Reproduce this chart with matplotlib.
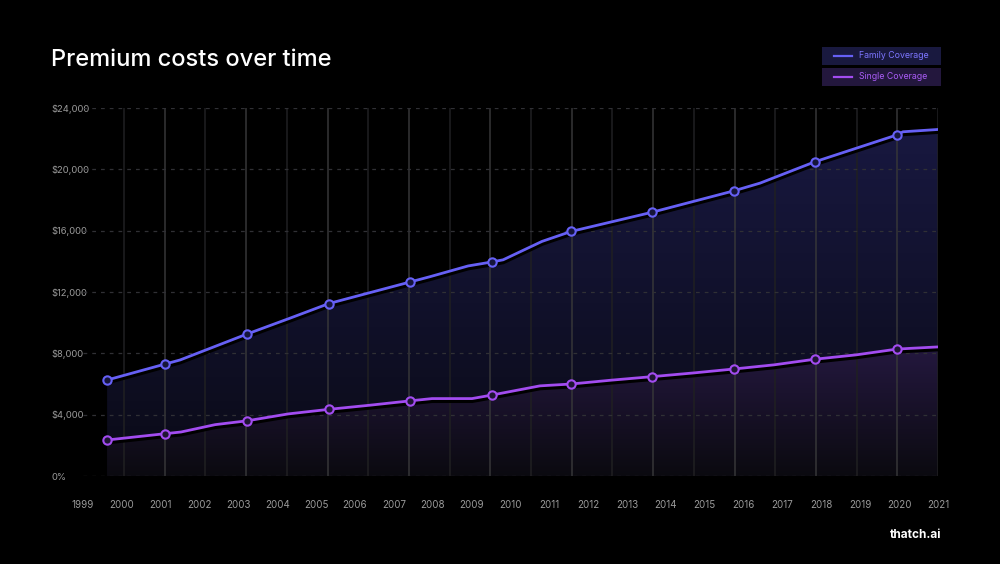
import numpy as np
import matplotlib
matplotlib.use('Agg')
from matplotlib import pyplot as plt
from matplotlib.patches import Polygon, Rectangle
from matplotlib.lines import Line2D
import matplotlib.patheffects as pe

plt.rcParams['font.family'] = ['Inter', 'DejaVu Sans']

# data (x in axis-year units, y in dollars)
family_x = [1999.62, 2001.11, 2001.50, 2003.22, 2004.28, 2005.33, 2007.41, 2007.93,
            2008.91, 2009.52, 2009.81, 2010.81, 2011.56, 2013.64, 2015.75, 2016.42,
            2017.84, 2019.95, 2020.10, 2021.0]
family_y = [6260, 7300, 7570, 9260, 10250, 11250, 12650, 13000,
            13700, 13960, 14100, 15300, 15950, 17200, 18600, 19100,
            20500, 22250, 22450, 22600]
family_marks = [0, 1, 3, 5, 6, 9, 12, 13, 14, 16, 17]

single_x = [1999.62, 2001.11, 2001.52, 2002.40, 2003.22, 2004.28, 2005.33, 2006.39,
            2007.41, 2007.98, 2009.01, 2009.52, 2010.76, 2011.56, 2012.59, 2013.64,
            2014.70, 2015.75, 2016.78, 2017.84, 2018.89, 2019.95, 2021.0]
single_y = [2350, 2760, 2870, 3350, 3600, 4050, 4350, 4620,
            4900, 5050, 5050, 5280, 5880, 6000, 6250, 6480,
            6720, 6980, 7250, 7620, 7900, 8280, 8420]
single_marks = [0, 1, 4, 6, 8, 11, 13, 15, 17, 19, 21]

years = list(range(1999, 2022))
y_ticks = [0, 4000, 8000, 12000, 16000, 20000, 24000]
y_labels = ['0%', '$4,000', '$8,000', '$12,000', '$16,000', '$20,000', '$24,000']

fam_color = '#6660f5'
sin_color = '#a24cf0'

fig = plt.figure(figsize=(10, 5.64), dpi=100, facecolor='black')
ax = fig.add_axes([0.083, 0.156, 0.855, 0.6525])
ax.set_facecolor('black')
ax.set_xlim(1999, 2021)
ax.set_ylim(0, 24000)
for s in ax.spines.values():
    s.set_visible(False)


def gradient_fill(x, y, top, bottom, z):
    verts = np.column_stack([np.r_[x, x[::-1]], np.r_[y, np.zeros(len(y))]])
    patch = Polygon(verts, closed=True, facecolor='none', edgecolor='none')
    ax.add_patch(patch)
    c0 = np.array(matplotlib.colors.to_rgba(bottom))
    c1 = np.array(matplotlib.colors.to_rgba(top))
    t = np.linspace(0, 1, 256)[:, None]
    grad = (c0 + (c1 - c0) * t)[:, None, :]
    im = ax.imshow(grad, extent=[min(x), max(x), 0, max(y)], aspect='auto',
                   origin='lower', zorder=z, interpolation='bilinear')
    im.set_clip_path(patch)


gradient_fill(family_x, family_y, '#181840', '#0a0a16', 1)
gradient_fill(single_x, single_y, '#24183f', '#0b0a10', 2)

# vertical grid
vgrid = np.linspace(2000.055, 2021, 21)
for i, vx in enumerate(vgrid):
    ax.axvline(vx, color='#363638' if i % 2 else '#202022', lw=1.1, zorder=3)

# horizontal grid
for yt in y_ticks:
    ax.axhline(yt, color='#303035', lw=0.9, ls=(0, (3, 4)), zorder=3)

shadow = [pe.Stroke(linewidth=4, foreground='black', offset=(0, -1.2)), pe.Normal()]
for xs, ys, marks, c, face in [(family_x, family_y, family_marks, fam_color, '#15153a'),
                               (single_x, single_y, single_marks, sin_color, '#1e1533')]:
    ax.plot(xs, ys, color=c, lw=2, zorder=5, path_effects=shadow)
    ax.plot(xs, ys, ls='none', marker='o', markevery=marks, markersize=6,
            markeredgewidth=1.5, markerfacecolor=face, markeredgecolor=c, zorder=6)

ax.set_xticks(years)
ax.set_xticklabels([str(y) for y in years], color='#9a9a9a', fontsize=7)
ax.tick_params(axis='x', length=0, pad=17)
ax.set_yticks(y_ticks)
ax.set_yticklabels(y_labels, color='#9a9a9a', fontsize=6.8, ha='left')
ax.tick_params(axis='y', length=0, pad=23)

fig.text(0.051, 0.893, 'Premium costs over time', color='white', fontsize=17,
         fontweight='medium', va='center', ha='left')

# legend boxes
legend = [('Family Coverage', fam_color, '#19193f', '#7d76ff', 47),
          ('Single Coverage', sin_color, '#23173d', '#a95cf5', 68)]
for label, lc, bg, tc, top in legend:
    fig.patches.append(Rectangle((0.822, 1 - (top + 17.5) / 564), 0.119, 17.5 / 564,
                                 transform=fig.transFigure, facecolor=bg,
                                 edgecolor='none'))
    yc = 1 - (top + 8.75) / 564
    fig.lines.append(Line2D([0.834, 0.852], [yc, yc], transform=fig.transFigure,
                            color=lc, lw=1.6))
    fig.text(0.859, yc, label, color=tc, fontsize=6.3, va='center', ha='left')

fig.text(0.941, 1 - 535 / 564, 'thatch.ai', color='white', fontsize=8.5,
         fontweight='bold', ha='right', va='center')

plt.savefig('out.png', dpi=100, facecolor='black')
